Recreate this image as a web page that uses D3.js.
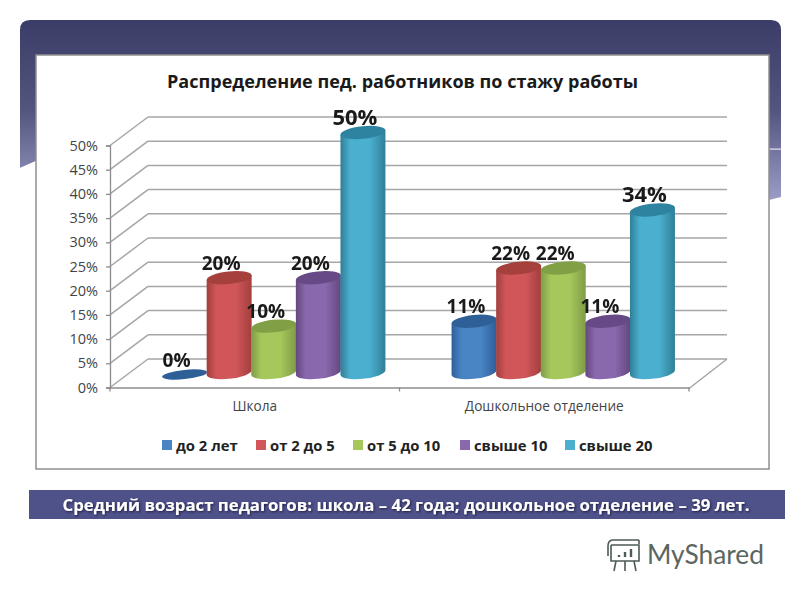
<!DOCTYPE html>
<html><head><meta charset="utf-8">
<script src="https://cdn.jsdelivr.net/npm/d3@7/dist/d3.min.js"></script>
<style>html,body{margin:0;padding:0;background:#fff}svg{display:block}text{font-family:"Open Sans",sans-serif}</style>
</head><body><svg id="c" width="800" height="600"></svg>
<script>
const categories = ["Школа", "Дошкольное отделение"];
const seriesNames = ["до 2 лет", "от 2 до 5", "от 5 до 10", "свыше 10", "свыше 20"];
const schoolValues = [0, 20, 10, 20, 50];
const preschoolValues = [11, 22, 22, 11, 34];
const yTicks = [0, 5, 10, 15, 20, 25, 30, 35, 40, 45, 50];
const bodyColors = ["#4a84c4", "#d0575a", "#a6c75c", "#8a68ad", "#4bb0cf"];
const edgeColors = ["#2d5f9a", "#a33f3c", "#7f9c47", "#64487f", "#2f7f98"];
const topColors = ["#2f6097", "#a5403e", "#81a045", "#664a86", "#2f84a0"];
const legendX = [162, 256, 353, 460, 565];
const title = "Распределение пед. работников по стажу работы";
const footer = "Средний возраст педагогов: школа – 42 года; дошкольное отделение – 39 лет.";

const svg = d3.select("#c");
const defs = svg.append("defs");
const bg = defs.append("linearGradient").attr("id","bg").attr("x1",0).attr("y1",0).attr("x2",0).attr("y2",1);
bg.append("stop").attr("offset",0).attr("stop-color","#3b3d68");
bg.append("stop").attr("offset",0.5).attr("stop-color","#53557f");
bg.append("stop").attr("offset",1).attr("stop-color","#9b9dc6");
seriesNames.forEach((s,i)=>{
  const g = defs.append("linearGradient").attr("id","b"+i).attr("x1",0).attr("x2",1).attr("y1",0).attr("y2",0);
  g.append("stop").attr("offset",0).attr("stop-color",edgeColors[i]);
  g.append("stop").attr("offset",0.22).attr("stop-color",bodyColors[i]);
  g.append("stop").attr("offset",0.65).attr("stop-color",bodyColors[i]);
  g.append("stop").attr("offset",1).attr("stop-color",edgeColors[i]);
});
const blur = defs.append("filter").attr("id","soft").attr("x","-5%").attr("y","-5%").attr("width","110%").attr("height","110%");
blur.append("feGaussianBlur").attr("stdDeviation",0.35);
const shadow = defs.append("filter").attr("id","shadow").attr("x","-5%").attr("y","-30%").attr("width","110%").attr("height","160%");
shadow.append("feDropShadow").attr("dx",1).attr("dy",1).attr("stdDeviation",0.8).attr("flood-color","#15163a").attr("flood-opacity",0.9);

// slide banner and panel
svg.append("path").attr("d","M20,168 L20,30 Q20,20 30,20 L771,20 Q781,20 781,30 L781,197 L769,200 L36,161 Z")
  .attr("fill","url(#bg)");
svg.append("path").attr("d","M20,168 L36,161 L36,200 L20,200 Z").attr("fill","#fff");
svg.append("rect").attr("x",769).attr("y",148.5).attr("width",12).attr("height",1.2).attr("fill","#e4e4f2");
svg.append("rect").attr("x",36).attr("y",55).attr("width",733).attr("height",414)
  .attr("fill","#fff").attr("stroke","#8f8f8f").attr("stroke-width",1.5);

svg.append("text").attr("x",402.5).attr("y",88).attr("text-anchor","middle")
  .attr("font-size",18.05).attr("font-weight",700).attr("fill","#1a1a1a").text(title);

// scales
const x0 = d3.scaleBand().domain(categories).range([110,689]);
const y = d3.scaleLinear().domain([0,50]).range([387.5,145.5]);
const x1 = d3.scaleBand().domain(seriesNames).range([-111.5,111.5]);
const depthX = 38, depthY = -28.5, barShift = 19, baseLift = 15, topLift = 13;
const fmt = v => v + "%";

// back wall gridlines and side-wall lines
const grid = svg.append("g").attr("stroke","#a6a6a6").attr("stroke-width",1.5).attr("fill","none");
grid.selectAll("line.back").data(yTicks).join("line").attr("class","back")
  .attr("x1",110+depthX).attr("x2",689+depthX)
  .attr("y1",d=>y(d)+depthY).attr("y2",d=>y(d)+depthY);
grid.selectAll("line.side").data(yTicks).join("line").attr("class","side")
  .attr("x1",110).attr("x2",110+depthX)
  .attr("y1",d=>y(d)).attr("y2",d=>y(d)+depthY);
grid.append("line").attr("x1",689).attr("x2",689+depthX).attr("y1",y(0)+1).attr("y2",y(0)+depthY);

// axes
const axisY = d3.axisLeft(y).tickValues(yTicks).tickFormat(fmt).tickSize(4).tickPadding(8);
const gy = svg.append("g").attr("transform","translate(110,0)").call(axisY);
gy.selectAll("path,line").attr("stroke","#8c8c8c").attr("stroke-width",1.3);
gy.selectAll("text").attr("font-size",14.5).attr("fill","#444");

const axisX = d3.axisBottom(x0).tickSize(0).tickPadding(14);
const gx = svg.append("g").attr("transform",`translate(0,${y(0)})`).call(axisX);
gx.select("path").attr("stroke","#8c8c8c").attr("stroke-width",1.5);
gx.selectAll("text").attr("font-size",13.6).attr("fill","#444");
gx.selectAll("line.sep").data([0,1,2]).join("line").attr("class","sep")
  .attr("x1",i=>110+i*x0.step()).attr("x2",i=>110+i*x0.step())
  .attr("y1",0).attr("y2",4).attr("stroke","#8c8c8c").attr("stroke-width",1.3);

// cylinders
const rx = 22.6, ry = 6.3, tilt = -6 * Math.PI/180;
const R = Math.sqrt(rx*rx*Math.cos(tilt)**2 + ry*ry*Math.sin(tilt)**2);
const dyE = (rx*rx-ry*ry)*Math.sin(tilt)*Math.cos(tilt)/R;
const deg = tilt*180/Math.PI;
const rows = categories.flatMap((c,ci)=>{
  const vals = ci===0 ? schoolValues : preschoolValues;
  return seriesNames.map((s,si)=>({c,s,si,v:vals[si]}));
});
const bars = svg.append("g").attr("filter","url(#soft)").selectAll("g").data(rows).join("g")
  .attr("transform",d=>`translate(${x0(d.c)+x0.bandwidth()/2+barShift+x1(d.s)+x1.bandwidth()/2},0)`);
bars.filter(d=>d.v>0).append("path")
  .attr("fill",d=>`url(#b${d.si})`)
  .attr("d",d=>{
    const base = y(0)-baseLift, top = y(d.v)-topLift;
    return `M${-R},${top-dyE} L${R},${top+dyE} L${R},${base+dyE} A${rx},${ry} ${deg} 0 1 ${-R},${base-dyE} Z`;
  });
bars.append("ellipse")
  .attr("cx",0).attr("cy",0).attr("rx",rx).attr("ry",d=>d.v>0?ry:4.6)
  .attr("fill",d=>topColors[d.si])
  .attr("transform",d=>`translate(0,${y(d.v)-topLift}) rotate(${deg})`);

// data labels
svg.append("g").selectAll("text").data(rows).join("text")
  .attr("x",d=>x0(d.c)+x0.bandwidth()/2+barShift+x1(d.s)+x1.bandwidth()/2-8)
  .attr("y",d=>y(d.v)-21)
  .attr("text-anchor","middle").attr("font-size",d=>d.v===50||d.v===34?22:19)
  .attr("font-weight",700).attr("fill","#1a1a1a").text(d=>fmt(d.v));

// legend
const leg = svg.append("g").selectAll("g").data(seriesNames).join("g")
  .attr("transform",(d,i)=>`translate(${legendX[i]},440)`);
leg.append("rect").attr("width",10).attr("height",10).attr("fill",(d,i)=>bodyColors[i]);
leg.append("text").attr("x",14).attr("y",10.5).attr("font-size",14.8).attr("font-weight",700).attr("fill","#222").text(d=>d);

// footer bar
svg.append("rect").attr("x",29).attr("y",490).attr("width",756).attr("height",29).attr("fill","#4f5189");
svg.append("text").attr("x",406).attr("y",511).attr("text-anchor","middle").attr("font-size",16.8)
  .attr("font-weight",700).attr("fill","#fff").attr("filter","url(#shadow)").text(footer);

// logo
const logo = svg.append("g").attr("stroke","#4d5a55").attr("fill","none").attr("stroke-width",1.6);
logo.append("path").attr("d","M612,540 L639,540 M612,540 Q608,541 608,546 L608,556 M639,540 L639,544 M611,545 L639,545 L639,561 L611,561 L611,545");
logo.append("path").attr("d","M616,561 L614,571 M625,561 L625,571 M634,561 L636,571");
logo.append("path").attr("d","M619,557 L619,555 M625,557 L625,552 M631,557 L631,549").attr("stroke-width",2.4);
svg.append("text").attr("x",647).attr("y",564).attr("font-size",26.3).attr("fill","#5a6661")
  .style("font-family","Lato, sans-serif").text("MyShared");
</script></body></html>
